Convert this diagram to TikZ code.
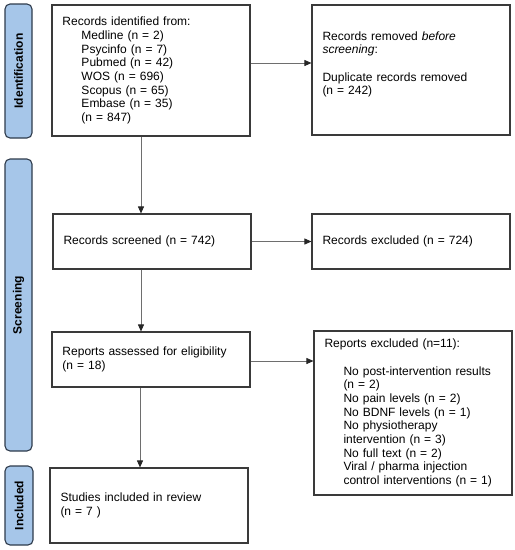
\documentclass[tikz,border=0pt]{standalone}
\usepackage{fontspec}
\setmainfont{Liberation Sans}
\usetikzlibrary{arrows.meta}
\definecolor{barfill}{HTML}{A6C6E9}
\definecolor{barline}{HTML}{2E3B4C}
\definecolor{boxline}{HTML}{3A3A3A}
\definecolor{arrline}{HTML}{6E6E6E}
\tikzset{
  box/.style={draw=boxline, line width=1.1pt, fill=white, inner xsep=10.5pt, inner ysep=0pt,
    align=left, minimum width=198pt, text width=177pt,
    font=\fontsize{12}{13.7}\selectfont},
  bar/.style={draw=barline, line width=1.1pt, fill=barfill, rounded corners=5pt, rotate=90,
    inner sep=0pt, font=\fontsize{12}{13.7}\selectfont\bfseries},
  arr/.style={draw=arrline, line width=0.8pt, -{Triangle[length=7pt,width=6pt,fill=black!85,color=black!85]}}
}
\newcommand{\ind}{\hspace*{19pt}}
\begin{document}
\begin{tikzpicture}[x=1pt,y=-1pt]
\useasboundingbox (0,0) rectangle (515,550);
% phase bars
\node[bar, minimum width=134pt, minimum height=27pt] (b1) at (18.5,71) {Identification};
\node[bar, minimum width=292pt, minimum height=27pt] (b2) at (18.5,305) {Screening};
\node[bar, minimum width=79pt, minimum height=28pt] (b3) at (19,505.5) {Included};
% boxes
\node[box, minimum height=131pt] (id) at (151,70.5) {Records identified from:\\
\ind Medline (n = 2)\\
\ind Psycinfo (n = 7)\\
\ind Pubmed (n = 42)\\
\ind WOS (n = 696)\\
\ind Scopus (n = 65)\\
\ind Embase (n = 35)\\
\ind (n = 847)};
\node[box, minimum height=130pt] (rem) at (411,70) {Records removed \textit{before}\\
\textit{screening}:\\[13.7pt]
Duplicate records removed\\
(n = 242)\\ \mbox{}};
\node[box, minimum height=55pt] (scr) at (152,241.5) {Records screened (n = 742)};
\node[box, minimum height=55pt] (exc) at (411,241.5) {Records excluded (n = 724)};
\node[box, minimum height=55pt] (ass) at (151,359.5) {Reports assessed for eligibility\\(n = 18)};
\node[box, minimum height=164pt] (rep) at (413,413) {Reports excluded (n=11):\\[13.7pt]
\ind No post-intervention results\\
\ind (n = 2)\\
\ind No pain levels (n = 2)\\
\ind No BDNF levels (n = 1)\\
\ind No physiotherapy\\
\ind intervention (n = 3)\\
\ind No full text (n = 2)\\
\ind Viral / pharma injection\\
\ind control interventions (n = 1)};
\node[box, minimum height=75pt] (inc) at (149,505.5) {Studies included in review\\(n = 7 )};
% connectors
\draw[arr] ([yshift=7.5pt]id.east) coordinate (h1) -- (h1 -| rem.west);
\draw[arr] (scr.east) -- (scr.east -| exc.west);
\draw[arr] ([yshift=-1.5pt]ass.east) coordinate (h3) -- (h3 -| rep.west);
\draw[arr] ([xshift=-10pt]id.south) coordinate (v1) -- (v1 |- scr.north);
\draw[arr] ([xshift=-11pt]scr.south) coordinate (v2) -- (v2 |- ass.north);
\draw[arr] ([xshift=-11pt]ass.south) coordinate (v3) -- (v3 |- inc.north);
\end{tikzpicture}
\end{document}
